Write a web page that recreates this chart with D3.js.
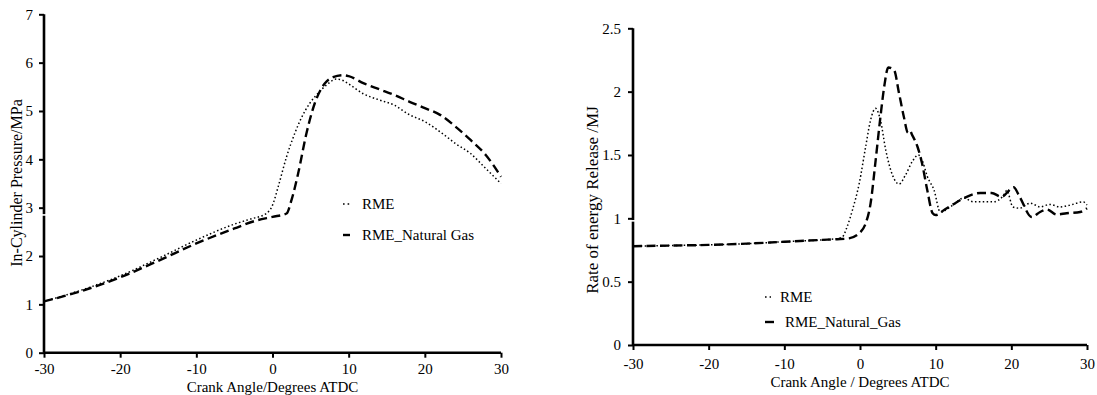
<!DOCTYPE html>
<html>
<head>
<meta charset="utf-8">
<script src="https://cdn.jsdelivr.net/npm/d3@7"></script>
<style>
  html, body { margin: 0; padding: 0; background: #fff; }
  svg { display: block; }
  text { font-family: "Liberation Serif", "Times New Roman", serif; fill: #000; }
</style>
</head>
<body>
<svg id="chart" width="1097" height="395"></svg>
<script>
// ---------- Data ----------
// Left chart: in-cylinder pressure (MPa) vs crank angle
const pressAngleRME = [-30,-25,-20,-15,-10,-5,-3,-0.8,0,0.74,1.84,2.93,3.8,4.9,6.0,7.1,8.4,9.27,10,12,14,16,18,20,22,24,26,28,30];
const pressRME      = [1.06,1.30,1.59,1.95,2.33,2.66,2.76,2.88,3.05,3.43,4.05,4.54,4.86,5.16,5.37,5.54,5.66,5.63,5.56,5.35,5.23,5.12,4.92,4.78,4.57,4.33,4.12,3.81,3.50];
const pressAngleNG  = [-30,-25,-20,-15,-10,-5,-2,0,1.84,2.5,3.37,4.46,5.55,6.86,7.95,9.27,10,12,14,16,18,20,22,24,26,28,30];
const pressNG       = [1.06,1.28,1.56,1.90,2.26,2.57,2.74,2.81,2.88,3.16,3.71,4.54,5.16,5.57,5.70,5.74,5.72,5.57,5.45,5.33,5.19,5.06,4.92,4.68,4.40,4.09,3.64];

// Right chart: rate of energy release (MJ) vs crank angle
const heatAngleRME = [-30,-25,-20,-15,-10,-5,-3,-2.3,-1.7,-1,-0.1,0.75,1.4,2.05,2.7,3.4,4.3,5.15,6,6.9,7.7,8.2,8.9,9.8,10.6,12.3,13.7,15,16.5,17.6,18.9,19.4,20.2,21.1,22.5,23.8,25.1,26.4,27.8,29.5,30];
const heatRME      = [0.78,0.785,0.79,0.80,0.815,0.83,0.84,0.855,0.934,1.065,1.276,1.565,1.776,1.868,1.776,1.54,1.34,1.27,1.34,1.447,1.50,1.46,1.33,1.22,1.05,1.105,1.16,1.13,1.13,1.13,1.175,1.22,1.09,1.08,1.12,1.09,1.11,1.09,1.105,1.13,1.105];
const heatAngleNG  = [-30,-25,-20,-15,-10,-5,-3,-1.45,0.1,0.75,1.4,2.07,2.7,3.2,3.74,4.5,5.15,5.8,6.34,6.6,6.9,7.6,8.2,8.9,9.6,10,11.2,12.3,14.1,15.9,17.4,18.7,20.3,21.1,22.7,23.8,24.7,26,27.3,29.1,30];
const heatNG       = [0.78,0.785,0.79,0.80,0.815,0.83,0.835,0.842,0.894,0.96,1.118,1.46,1.80,2.04,2.19,2.17,1.99,1.80,1.676,1.69,1.657,1.565,1.434,1.22,1.04,1.026,1.07,1.11,1.17,1.20,1.20,1.17,1.245,1.17,1.01,1.05,1.07,1.03,1.04,1.05,1.08];

const xTicks      = [-30,-20,-10,0,10,20,30];
const xTickLabels = ["-30","-20","-10","0","10","20","30"];
const pressTicks  = [0,1,2,3,4,5,6,7];
const pressTickLabels = ["0","1","2","3","4","5","6","7"];
const heatTicks   = [0,0.5,1,1.5,2,2.5];
const heatTickLabels = ["0","0.5","1","1.5","2","2.5"];

const seriesNames = ["RME", "RME_Natural Gas", "RME_Natural_Gas"];

// ---------- Drawing ----------
const svg = d3.select("#chart");

const styles = {
  dotted: { width: 1.5, dash: "1.5 2.4" },
  dashed: { width: 2.4, dash: "9 4.5" }
};

function zip(xs, ys) { return xs.map((x, i) => ({ x: x, y: ys[i] })); }

function drawPanel(cfg) {
  const x = d3.scaleLinear().domain([-30, 30]).range([cfg.left, cfg.right]);
  const y = d3.scaleLinear().domain([0, cfg.ymax]).range([cfg.bottom, cfg.top]);
  const g = svg.append("g");

  // axes
  const xa = g.append("g").attr("transform", `translate(0,${cfg.bottom})`)
    .call(d3.axisBottom(x).tickValues(xTicks).tickSize(5).tickPadding(cfg.xPad)
      .tickFormat((d, i) => xTickLabels[i]));
  const ya = g.append("g").attr("transform", `translate(${cfg.left},0)`)
    .call(d3.axisLeft(y).tickValues(cfg.yTicks).tickSize(5).tickPadding(cfg.yPad)
      .tickFormat((d, i) => cfg.yLabels[i]));
  [xa, ya].forEach(a => {
    a.attr("font-family", null).attr("font-size", null);
    a.select(".domain").attr("stroke", "#000").attr("stroke-width", 2.6);
    a.selectAll(".tick line").attr("stroke", "#000").attr("stroke-width", 2);
    a.selectAll("text").style("font-family", '"Liberation Serif", serif').style("font-size", "15px").attr("fill", "#000");
  });
  xa.select(".domain").attr("d", `M${cfg.left},0H${cfg.right}`);
  ya.select(".domain").attr("d", `M0,${cfg.bottom}V${cfg.top}`);

  // small break in the vertical axis line (as in the source picture)
  g.append("line")
    .attr("x1", cfg.left - 2).attr("x2", cfg.left + 2)
    .attr("y1", y(cfg.gapAt)).attr("y2", y(cfg.gapAt))
    .attr("stroke", "#fff").attr("stroke-width", 1.6);

  // lines
  const line = d3.line().x(d => x(d.x)).y(d => y(d.y)).curve(d3.curveMonotoneX);
  cfg.series.forEach(s => {
    g.append("path").datum(zip(s.xs, s.ys))
      .attr("d", line).attr("fill", "none").attr("stroke", "#000")
      .attr("stroke-width", styles[s.style].width)
      .attr("stroke-dasharray", styles[s.style].dash);
  });

  // titles
  g.append("text").attr("x", x(0)).attr("y", cfg.xTitleY).attr("text-anchor", "middle")
    .style("font-size", "15px").text(cfg.xTitle);
  g.append("text").attr("transform", `translate(${cfg.yTitleX},${cfg.yTitleCY}) rotate(-90)`)
    .attr("text-anchor", "middle").style("font-size", cfg.yTitleSize + "px").text(cfg.yTitle);

  // legend
  cfg.series.forEach((s, i) => {
    const ly = cfg.legY[i];
    g.append("line")
      .attr("x1", cfg.legSampleX[0]).attr("x2", cfg.legSampleX[s.style === "dotted" ? 1 : 2])
      .attr("y1", ly).attr("y2", ly).attr("stroke", "#000")
      .attr("stroke-width", styles[s.style].width)
      .attr("stroke-dasharray", s.style === "dotted" ? "1.6 3" : null);
    g.append("text").attr("x", cfg.legTextX[i]).attr("y", ly).attr("dy", "0.33em")
      .style("font-size", "15px").text(s.name);
  });
}

drawPanel({
  left: 44, right: 501, top: 14.3, bottom: 352.7, ymax: 7,
  yTicks: pressTicks, yLabels: pressTickLabels, xPad: 6, yPad: 6, gapAt: 2.85,
  xTitle: "Crank Angle/Degrees ATDC", xTitleY: 391.5,
  yTitle: "In-Cylinder Pressure/MPa", yTitleX: 22, yTitleCY: 183, yTitleSize: 16,
  series: [
    { name: seriesNames[0], xs: pressAngleRME, ys: pressRME, style: "dotted" },
    { name: seriesNames[1], xs: pressAngleNG, ys: pressNG, style: "dashed" }
  ],
  legY: [204, 235], legSampleX: [343, 350, 350], legTextX: [362, 362]
});

drawPanel({
  left: 633, right: 1087, top: 28.3, bottom: 345, ymax: 2.5,
  yTicks: heatTicks, yLabels: heatTickLabels, xPad: 8, yPad: 7, gapAt: 0.98,
  xTitle: "Crank Angle / Degrees ATDC", xTitleY: 387,
  yTitle: "Rate of energy Release /MJ", yTitleX: 598, yTitleCY: 200, yTitleSize: 17,
  series: [
    { name: seriesNames[0], xs: heatAngleRME, ys: heatRME, style: "dotted" },
    { name: seriesNames[2], xs: heatAngleNG, ys: heatNG, style: "dashed" }
  ],
  legY: [297, 322], legSampleX: [765, 771, 774], legTextX: [780, 785]
});
</script>
</body>
</html>
